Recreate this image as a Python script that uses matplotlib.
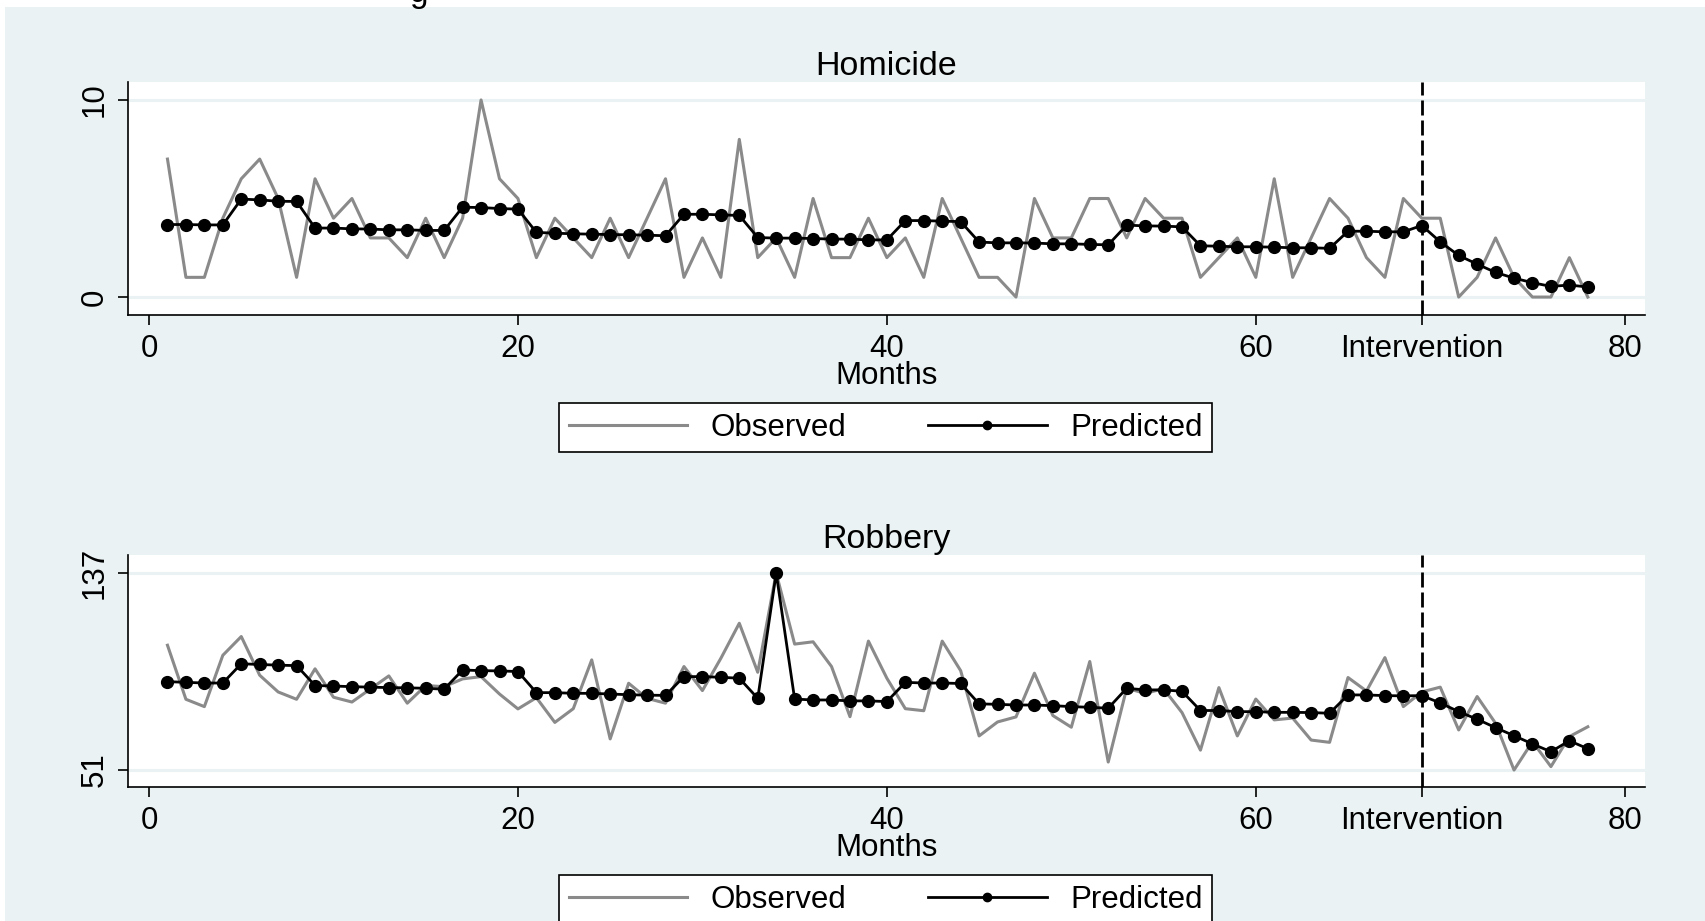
import matplotlib
matplotlib.use("Agg")
import matplotlib.pyplot as plt
from matplotlib.lines import Line2D
from matplotlib.patches import Rectangle

plt.rcParams['font.family'] = ['Liberation Sans', 'DejaVu Sans']

months = list(range(1, 79))

hom_observed = [7, 1, 1, 4, 6, 7, 5, 1, 6, 4, 5, 3, 3, 2, 4, 2, 4, 10, 6, 5,
                2, 4, 3, 2, 4, 2, 4, 6, 1, 3, 1, 8, 2, 3, 1, 5, 2, 2, 4, 2,
                3, 1, 5, 3, 1, 1, 0, 5, 3, 3, 5, 5, 3, 5, 4, 4, 1, 2, 3, 1,
                6, 1, 3, 5, 4, 2, 1, 5, 4, 4, 0, 1, 3, 1, 0, 0, 2, 0]
hom_predicted = [3.68, 3.68, 3.66, 3.66, 4.97, 4.93, 4.86, 4.85,
                 3.50, 3.50, 3.46, 3.45, 3.41, 3.41, 3.38, 3.38,
                 4.56, 4.54, 4.49, 4.46,
                 3.28, 3.24, 3.21, 3.19, 3.17, 3.16, 3.14, 3.11,
                 4.20, 4.20, 4.17, 4.14,
                 3.02, 2.99, 2.99, 2.97, 2.94, 2.94, 2.90, 2.90,
                 3.88, 3.88, 3.85, 3.83,
                 2.79, 2.75, 2.75, 2.74, 2.70, 2.70, 2.67, 2.65,
                 3.65, 3.61, 3.60, 3.56,
                 2.60, 2.58, 2.55, 2.55, 2.53, 2.50, 2.50, 2.47,
                 3.34, 3.34, 3.31, 3.31, 3.63,
                 2.80, 2.11, 1.67, 1.25, 0.96, 0.73, 0.54, 0.61, 0.51]

rob_observed = [105.5, 81.9, 78.7, 101.1, 109.3, 92.4, 85.1, 81.9, 95.2, 82.8,
                80.7, 86.4, 92.1, 80.2, 87.9, 87.4, 90.8, 91.8, 84.2, 77.7,
                82.6, 71.8, 77.8, 99.1, 64.6, 88.9, 82.3, 80.2, 96.2, 85.7,
                99.8, 115.1, 93.7, 137, 106.0, 107.0, 96.2, 74.3, 107.3, 91.1,
                77.8, 76.9, 107.3, 94.4, 65.9, 72.0, 74.2, 93.3, 74.8, 69.7,
                98.4, 54.5, 86.7, 84.5, 86.5, 76.1, 59.7, 87.0, 65.9, 82.0,
                72.9, 73.7, 64.1, 63.1, 91.4, 85.5, 100.1, 78.7, 85.1, 87.2,
                68.5, 83.1, 71.4, 51, 63.4, 52.5, 65.6, 69.9]
rob_predicted = [89.6, 89.3, 89.0, 89.0, 97.4, 97.1, 96.8, 96.6,
                 87.9, 87.7, 87.4, 87.2, 87.0, 86.9, 86.7, 86.3,
                 94.7, 94.4, 94.3, 94.0,
                 84.8, 84.8, 84.5, 84.5, 84.2, 83.9, 83.7, 83.6,
                 91.8, 91.8, 91.5, 91.1,
                 82.3, 137, 82.0, 81.6, 81.6, 81.2, 81.2, 80.9,
                 89.3, 89.0, 89.0, 88.8,
                 79.9, 79.7, 79.4, 79.4, 79.1, 78.7, 78.4, 78.0,
                 86.7, 86.0, 86.0, 85.4,
                 77.0, 77.0, 76.5, 76.5, 76.2, 76.2, 76.1, 75.8,
                 83.8, 83.8, 83.5, 83.4, 83.5,
                 80.3, 76.5, 73.2, 69.5, 66.0, 62.4, 59.0, 63.8, 60.3]

intervention = 69
xtick_vals = [0, 20, 40, 60, intervention, 80]
xtick_labels = ['0', '20', '40', '60', 'Intervention', '80']
panels = [
    ("Homicide", hom_observed, hom_predicted, [0, 10], (-0.91, 10.91)),
    ("Robbery", rob_observed, rob_predicted, [51, 137], (43.6, 144.9)),
]

BG = '#EAF2F3'
GRAY = '#8a8a8a'
W, H = 1705, 921
fig = plt.figure(figsize=(W / 100, H / 100), dpi=100, facecolor='white')
fig.patches.append(Rectangle((5 / W, 0), 1, 1 - 7 / H, transform=fig.transFigure,
                             facecolor=BG, edgecolor='none', zorder=-10))
fig.text(419 / W, 1 - 2 / H, 'g', fontsize=24, ha='center', va='baseline')

# axes geometry in pixels (left, top, right, bottom)
boxes = [(128, 82, 1645, 315), (128, 555, 1645, 787)]
legend_centers = [427.5, 899.5]

for (title, obs, pred, yt, ylim), (l, t, r, b), lc in zip(panels, boxes, legend_centers):
    ax = fig.add_axes([l / W, 1 - b / H, (r - l) / W, (b - t) / H])
    ax.set_facecolor('white')
    ax.set_xlim(-1.14, 81.1)
    ax.set_ylim(*ylim)
    for v in yt:
        ax.axhline(v, color=BG, lw=2.2, zorder=0)
    ax.axvline(intervention, color='black', lw=2, linestyle=(0, (5.4, 1.8)), zorder=1)
    ax.plot(months, obs, color=GRAY, lw=2.2, zorder=2)
    ax.plot(months, pred, color='black', lw=2, marker='o', markersize=8.5, zorder=3)
    ax.set_xticks(xtick_vals)
    ax.set_xticklabels(xtick_labels)
    ax.set_yticks(yt)
    ax.set_yticklabels([str(v) for v in yt], rotation=90, va='center')
    ax.tick_params(axis='both', direction='out', length=7.5, width=1.2,
                   labelsize=22.5, pad=6)
    for s in ['top', 'right']:
        ax.spines[s].set_visible(False)
    for s in ['left', 'bottom']:
        ax.spines[s].set_linewidth(1.2)
    ax.set_xlabel('Months', fontsize=22.5, labelpad=-2)
    ax.set_title(title, fontsize=24.5, pad=5)

    handles = [Line2D([], [], color=GRAY, lw=2.2),
               Line2D([], [], color='black', lw=2, marker='o', markersize=6)]
    leg = fig.legend(handles, ['Observed', 'Predicted'], loc='center',
                     bbox_to_anchor=(885.6 / W, 1 - lc / H), ncol=2,
                     fontsize=22.5, frameon=True, fancybox=False,
                     edgecolor='black', facecolor='white', framealpha=1,
                     handlelength=3.8, handletextpad=0.75, columnspacing=2.6,
                     borderpad=0.3, borderaxespad=0)
    leg.get_frame().set_linewidth(1.2)

fig.savefig('out.png', dpi=100, facecolor='white')
